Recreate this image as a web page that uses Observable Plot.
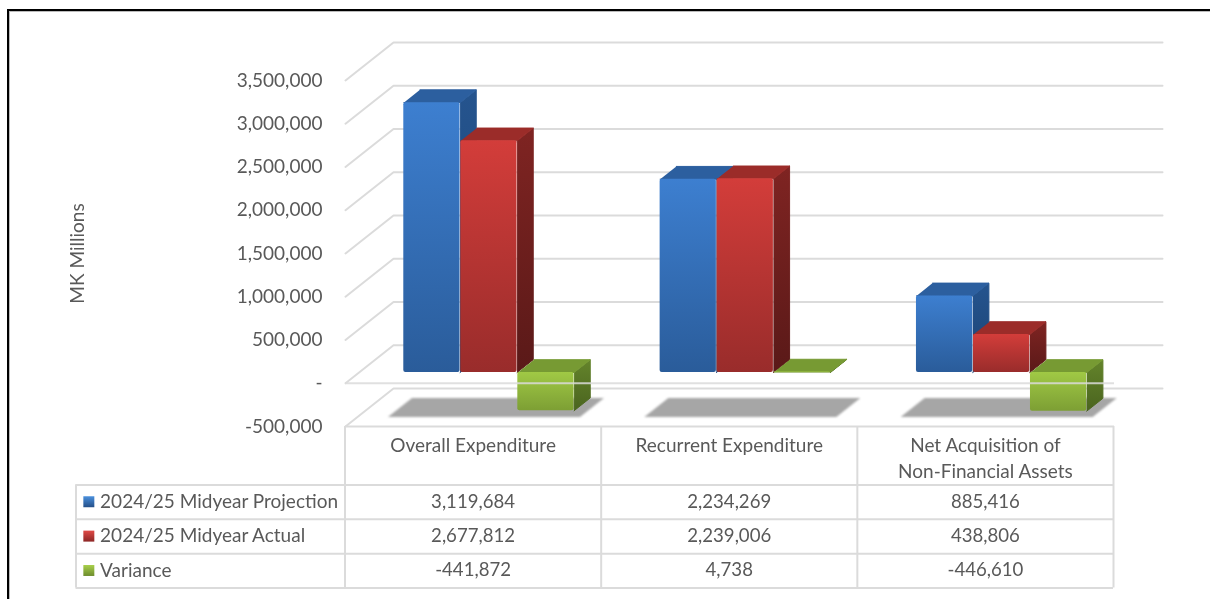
<!DOCTYPE html>
<html>
<head>
<meta charset="utf-8">
<script src="https://cdn.jsdelivr.net/npm/d3@7"></script>
<script src="https://cdn.jsdelivr.net/npm/@observablehq/plot@0.6"></script>
<style>
  html, body { margin: 0; padding: 0; background: #fff; overflow: hidden; }
  #page { position: relative; width: 1210px; height: 599px; overflow: hidden; }
  #page svg { display: block; overflow: visible; filter: blur(0.35px); }
  #frame { position: absolute; left: 7px; top: 9px; right: -10px; bottom: -10px;
           border-left: 2.5px solid #000; border-top: 2.5px solid #000; box-shadow: inset 1px 1px 0 #bbb; pointer-events: none; }
  .shadow { filter: blur(1.3px); }
</style>
</head>
<body>
<div id="page"><div id="frame"></div></div>
<script>
const categories = ["Overall Expenditure", "Recurrent Expenditure", "Net Acquisition of\nNon-Financial Assets"];
const seriesNames = ["2024/25 Midyear Projection", "2024/25 Midyear Actual", "Variance"];
const projection = [3119684, 2234269, 885416];
const actual = [2677812, 2239006, 438806];
const variance = [-441872, 4738, -446610];
const yTicks = [-500000, 0, 500000, 1000000, 1500000, 2000000, 2500000, 3000000, 3500000];

const seriesValues = [projection, actual, variance];
const keys = ["blue", "red", "green"];

// Perspective: how far the back wall is shifted, in data units
const DX = 0.1873, DV = 439300;
const D0 = 0.283, D1 = 0.62;          // depth span of a bar
const GROUP = 0.1744, BAR = 0.2195, STEP = 0.2224;   // bar placement in a category

const FONT = "Lato, Carlito, Calibri, sans-serif";
const TEXT = "#595959", GRID = "#dbdbdb";

const P = (x, v, d) => ({x: x + d * DX, v: v + d * DV});
const fmt = d3.formatLocale({decimal: ".", thousands: ",", grouping: [3], currency: ["", ""], minus: "-"}).format(",");

const grads = {
  blue:  ["#3d7fd0", "#2a5c9a"], red:  ["#d33d3a", "#992c2b"], green:  ["#a0c945", "#7d9f34"],
  blueS: ["#25548e", "#1c4374"], redS: ["#7f2422", "#5a1918"], greenS: ["#64842b", "#4a641f"],
  blueK: ["#4a90dd", "#244f88"], redK: ["#e04a46", "#8c2625"], greenK: ["#a9d04c", "#6d8c2d"]
};
function defs() {
  const g = d3.create("svg:defs");
  for (const id in grads) {
    const lg = g.append("linearGradient").attr("id", "g-" + id).attr("x1", 0).attr("x2", 0).attr("y1", 0).attr("y2", 1);
    lg.append("stop").attr("offset", "0%").attr("stop-color", grads[id][0]);
    lg.append("stop").attr("offset", "100%").attr("stop-color", grads[id][1]);
  }
  return g.node();
}
const topColor = {blue: "#2c5f9f", red: "#9b2c29", green: "#779a33"};

// Build the drawn faces from the data
const sides = [], tops = [], fronts = [], shadows = [], grid = [];
categories.forEach((c, i) => {
  [[0.119, 0.25], [0.119 + 0.749, 0.25], [0.119 + 0.749, 0.75], [0.119, 0.75]].forEach(([o, d]) => {
    const p = P(i + o, -500000, d);
    shadows.push({id: i, ...p});
  });
  seriesValues.forEach((vals, s) => {
    const v = vals[i], hi = Math.max(v, 0), lo = Math.min(v, 0);
    const x0 = i + GROUP + s * STEP, x1 = x0 + BAR, k = keys[s], id = c + s;
    [[x1, hi, D0], [x1, hi, D1], [x1, lo, D1], [x1, lo, D0]].forEach(([x, w, d]) => sides.push({id, fill: `url(#g-${k}S)`, ...P(x, w, d)}));
    [[x0, hi, D0], [x1, hi, D0], [x1, hi, D1], [x0, hi, D1]].forEach(([x, w, d]) => tops.push({id, fill: topColor[k], ...P(x, w, d)}));
    const a = P(x0, hi, D0), b = P(x1, lo, D0);
    fronts.push({x1: a.x, x2: b.x, y1: a.v, y2: b.v, fill: `url(#g-${k})`});
  });
});
yTicks.forEach(t => {
  grid.push({id: t, x: 0, v: t}, {id: t, ...P(0, t, 1)}, {id: t, ...P(3, t, 1)});
});

const chart = Plot.plot({
  width: 1210, height: 427,
  marginLeft: 345, marginRight: 96, marginTop: 80, marginBottom: 1,
  x: {domain: [0, 3], axis: null},
  y: {domain: [-500000, 3500000], label: null},
  color: {type: "identity"},
  style: {background: "transparent", fontFamily: FONT},
  marks: [
    defs,
    Plot.line(grid, {x: "x", y: "v", z: "id", stroke: GRID, strokeWidth: 2, curve: "linear"}),
    Plot.ruleY([-500000], {x1: 0, x2: 3, stroke: GRID, strokeWidth: 2}),
    Plot.line(shadows, {x: "x", y: "v", z: "id", fill: "#a6a6a6", stroke: "none", className: "shadow"}),
    Plot.line(sides, {x: "x", y: "v", z: "id", fill: "fill", stroke: "fill", strokeWidth: 1, strokeLinejoin: "round"}),
    Plot.line(tops, {x: "x", y: "v", z: "id", fill: "fill", stroke: "fill", strokeWidth: 1, strokeLinejoin: "round"}),
    Plot.rect(fronts, {x1: "x1", x2: "x2", y1: "y1", y2: "y2", fill: "fill", rx: 2}),
    Plot.ruleY([0], {x1: 0, x2: 3, stroke: GRID, strokeWidth: 2, strokeOpacity: 0.85}),
    Plot.axisY(yTicks, {
      anchor: "left", tickSize: 0, tickPadding: 23, dy: 0, fontSize: 19, fill: TEXT, label: null,
      tickFormat: d => d === 0 ? "-" : fmt(d)
    }),
    Plot.text(["MK Millions"], {frameAnchor: "left", textAnchor: "middle", dx: -268, dy: 0, rotate: -90, fontSize: 19, fill: TEXT, text: d => d})
  ]
});

// The data table under the chart, on the same category axis, in row units
const rowEdges = [0, 1.7, 2.7, 3.7, 4.7];
const LABEL_EDGE = -1.05, KEY_X = -1, LABEL_X = -0.956;
const rows = seriesNames.map((name, s) => ({name, key: keys[s], y: rowEdges[s + 1] + 0.49}));
const cells = seriesValues.flatMap((vals, s) => vals.map((v, i) => ({x: i + 0.5, y: rows[s].y, t: fmt(v)})));

const table = Plot.plot({
  width: 1210, height: 172,
  marginLeft: 344.5, marginRight: 97, marginTop: 0, marginBottom: 0,
  x: {domain: [0, 3], axis: null},
  y: {domain: [0, 4.7], range: [-1, 160.5], axis: null},
  color: {type: "identity"},
  style: {background: "transparent", fontFamily: FONT},
  marks: [
    Plot.ruleY(rowEdges.slice(1), {x1: LABEL_EDGE, x2: 3, stroke: GRID, strokeWidth: 2}),
    Plot.ruleX([0, 1, 2, 3], {y1: 0, y2: 4.7, stroke: GRID, strokeWidth: 2}),
    Plot.ruleX([LABEL_EDGE], {y1: rowEdges[1], y2: 4.7, stroke: GRID, strokeWidth: 2}),
    Plot.text(categories, {x: (d, i) => i + 0.5, y: 0.2, text: d => d, lineAnchor: "top", lineHeight: 1.37, fontSize: 19, fill: TEXT}),
    Plot.dot(rows, {x: KEY_X, y: "y", symbol: "square", r: 6.2, fill: d => `url(#g-${d.key}K)`, stroke: "none"}),
    Plot.text(rows, {x: LABEL_X, y: "y", text: "name", textAnchor: "start", fontSize: 19, fill: TEXT}),
    Plot.text(cells, {x: "x", y: "y", text: "t", fontSize: 18.6, fill: TEXT})
  ]
});

const page = document.getElementById("page");
page.insertBefore(table, page.firstChild);
page.insertBefore(chart, page.firstChild);
</script>
</body>
</html>
